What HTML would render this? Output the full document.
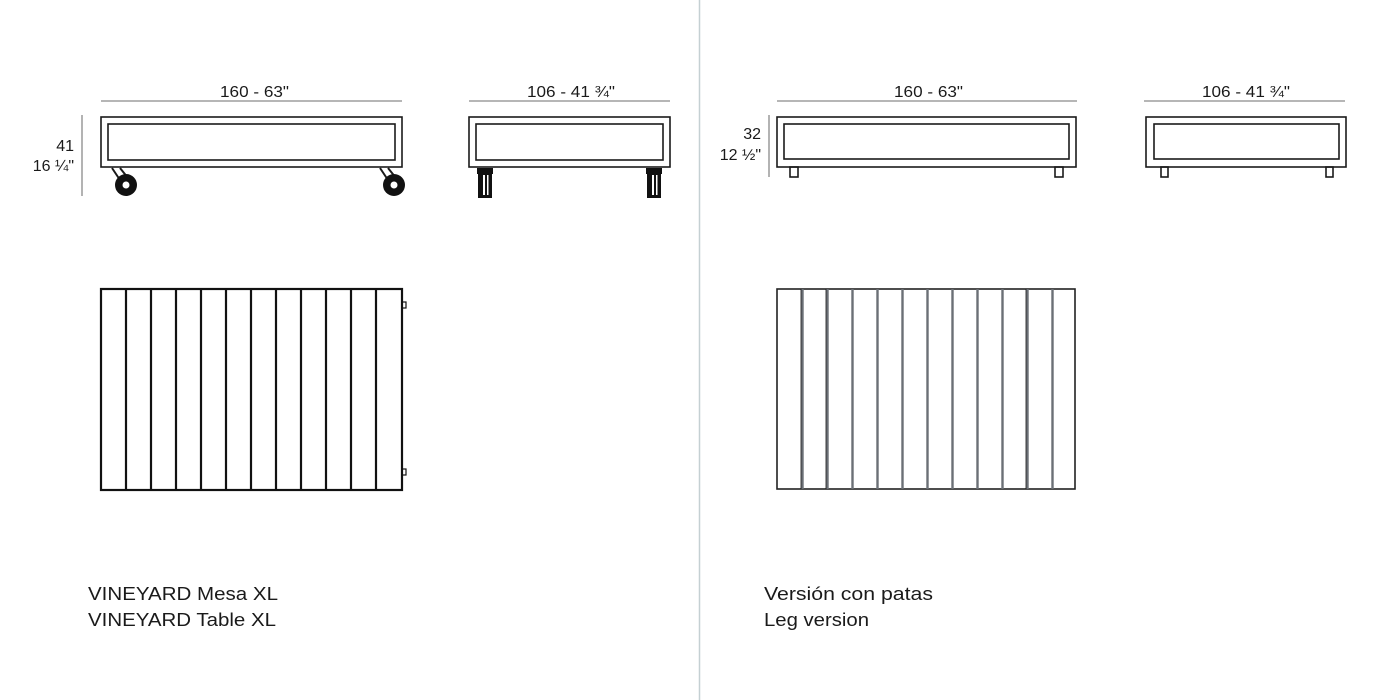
<!DOCTYPE html>
<html><head><meta charset="utf-8"><style>
html,body{margin:0;padding:0;background:#fff;}
svg{display:block;}
text{font-family:"Liberation Sans",sans-serif;fill:#1a1a1a;}
</style></head><body>
<svg width="1400" height="700" viewBox="0 0 1400 700" xmlns="http://www.w3.org/2000/svg">
<rect width="1400" height="700" fill="#fff"/>
<line x1="699.5" y1="0" x2="699.5" y2="700" stroke="#c5d0d3" stroke-width="1.5"/>

<g stroke="#8a8a8a" stroke-width="1.3">
<line x1="101" y1="101" x2="402" y2="101"/>
<line x1="469" y1="101" x2="670" y2="101"/>
<line x1="777" y1="101" x2="1077" y2="101"/>
<line x1="1144" y1="101" x2="1345" y2="101"/>
<line x1="82" y1="115" x2="82" y2="196"/>
<line x1="769" y1="115" x2="769" y2="177"/>
</g>
<g font-size="16">
<text x="220" y="97" textLength="69" lengthAdjust="spacingAndGlyphs">160 - 63"</text>
<text x="527" y="97" textLength="88" lengthAdjust="spacingAndGlyphs">106 - 41 ¾"</text>
<text x="894" y="97" textLength="69" lengthAdjust="spacingAndGlyphs">160 - 63"</text>
<text x="1202" y="97" textLength="88" lengthAdjust="spacingAndGlyphs">106 - 41 ¾"</text>
<text x="74" y="151" text-anchor="end">41</text>
<text x="74" y="171" text-anchor="end">16 ¼"</text>
<text x="761" y="139" text-anchor="end">32</text>
<text x="761" y="160" text-anchor="end">12 ½"</text>
</g>

<g fill="none" stroke="#1a1a1a" stroke-width="1.6">
<rect x="101" y="117" width="301" height="50"/>
<rect x="108" y="124" width="287" height="36"/>
<rect x="469" y="117" width="201" height="50"/>
<rect x="476" y="124" width="187" height="36"/>
<rect x="777" y="117" width="299" height="50"/>
<rect x="784" y="124" width="285" height="35"/>
<rect x="1146" y="117" width="200" height="50"/>
<rect x="1154" y="124" width="185" height="35"/>
<rect x="790" y="167" width="8" height="10"/>
<rect x="1055" y="167" width="8" height="10"/>
<rect x="1161" y="167" width="7" height="10"/>
<rect x="1326" y="167" width="7" height="10"/>
</g>

<g>
<path d="M112 168 L120 180 M120 168 L128 178" stroke="#1a1a1a" stroke-width="2" fill="none"/>
<circle cx="126" cy="185" r="11" fill="#111"/>
<circle cx="126" cy="185" r="3.5" fill="#fff"/>
<path d="M380 168 L388 180 M388 168 L396 178" stroke="#1a1a1a" stroke-width="2" fill="none"/>
<circle cx="394" cy="185" r="11" fill="#111"/>
<circle cx="394" cy="185" r="3.5" fill="#fff"/>
</g>
<g fill="#111">
<rect x="477" y="168" width="16" height="6"/>
<rect x="478" y="174" width="14" height="24"/>
<rect x="483" y="175" width="2" height="20" fill="#fff"/>
<rect x="487" y="175" width="1.5" height="20" fill="#fff"/>
<rect x="646" y="168" width="16" height="6"/>
<rect x="647" y="174" width="14" height="24"/>
<rect x="652" y="175" width="2" height="20" fill="#fff"/>
<rect x="656" y="175" width="1.5" height="20" fill="#fff"/>
</g>

<g fill="none" stroke="#111" stroke-width="2.2">
<rect x="101" y="289" width="301" height="201"/>
<line x1="126" y1="289" x2="126" y2="490"/>
<line x1="151" y1="289" x2="151" y2="490"/>
<line x1="176" y1="289" x2="176" y2="490"/>
<line x1="201" y1="289" x2="201" y2="490"/>
<line x1="226" y1="289" x2="226" y2="490"/>
<line x1="251" y1="289" x2="251" y2="490"/>
<line x1="276" y1="289" x2="276" y2="490"/>
<line x1="301" y1="289" x2="301" y2="490"/>
<line x1="326" y1="289" x2="326" y2="490"/>
<line x1="351" y1="289" x2="351" y2="490"/>
<line x1="376" y1="289" x2="376" y2="490"/>
</g>
<g fill="none" stroke="#111" stroke-width="1.2">
<rect x="402" y="302" width="4" height="6"/>
<rect x="402" y="469" width="4" height="6"/>
</g>

<g fill="none" stroke="#222" stroke-width="1.6">
<rect x="777" y="289" width="298" height="200"/>
</g>
<g stroke="#6b7076" stroke-width="2.4">
<line x1="802.5" y1="289" x2="802.5" y2="489"/>
<line x1="827.5" y1="289" x2="827.5" y2="489"/>
<line x1="852.5" y1="289" x2="852.5" y2="489"/>
<line x1="877.5" y1="289" x2="877.5" y2="489"/>
<line x1="902.5" y1="289" x2="902.5" y2="489"/>
<line x1="927.5" y1="289" x2="927.5" y2="489"/>
<line x1="952.5" y1="289" x2="952.5" y2="489"/>
<line x1="977.5" y1="289" x2="977.5" y2="489"/>
<line x1="1002.5" y1="289" x2="1002.5" y2="489"/>
<line x1="1027.5" y1="289" x2="1027.5" y2="489"/>
<line x1="1052.5" y1="289" x2="1052.5" y2="489"/>
</g>
<g stroke="#111" stroke-width="0.8">
<line x1="801" y1="289" x2="801" y2="489"/>
<line x1="826" y1="289" x2="826" y2="489"/>
<line x1="1026" y1="289" x2="1026" y2="489"/>
</g>

<g font-size="18">
<text x="88" y="600" textLength="190" lengthAdjust="spacingAndGlyphs">VINEYARD Mesa XL</text>
<text x="88" y="626" textLength="188" lengthAdjust="spacingAndGlyphs">VINEYARD Table XL</text>
<text x="764" y="600" textLength="169" lengthAdjust="spacingAndGlyphs">Versión con patas</text>
<text x="764" y="626" textLength="105" lengthAdjust="spacingAndGlyphs">Leg version</text>
</g>
</svg>
</body></html>
